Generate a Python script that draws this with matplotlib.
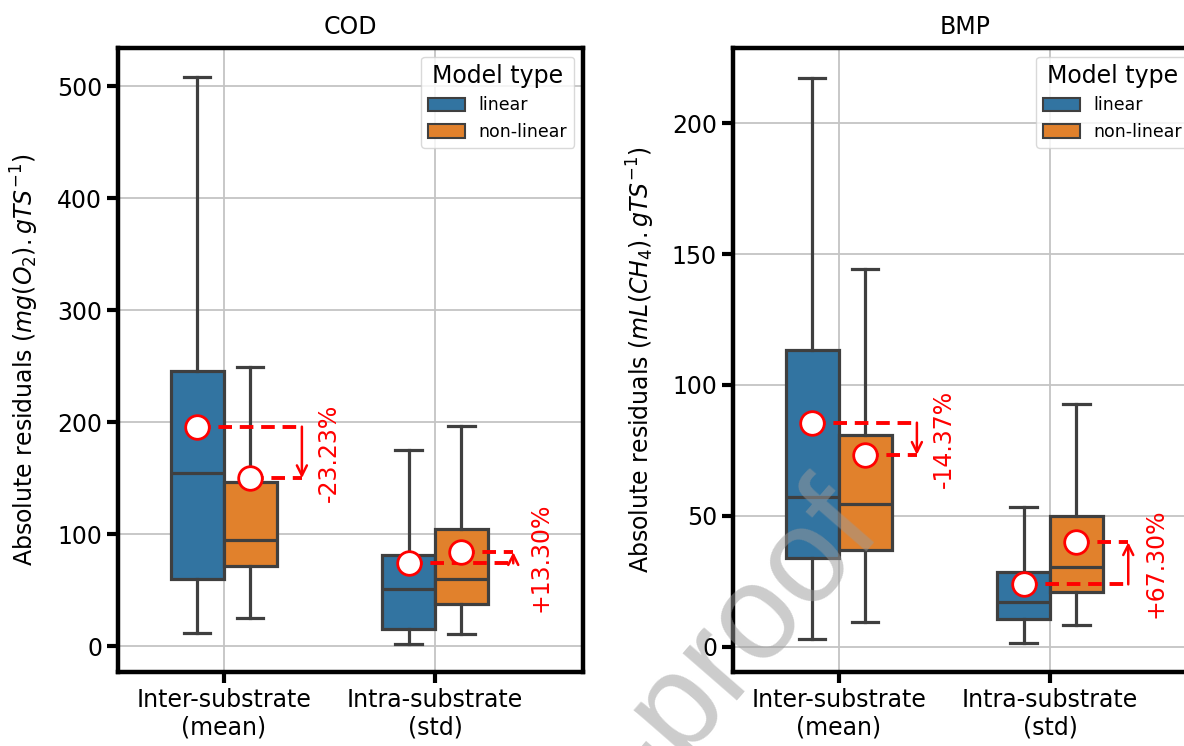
import matplotlib
matplotlib.use('Agg')
import matplotlib.pyplot as plt
from matplotlib.patches import Patch

# ---------------- data ----------------
categories = ['Inter-substrate\n(mean)', 'Intra-substrate\n(std)']
model_types = ['linear', 'non-linear']
panel_titles = ['COD', 'BMP']
panel_ylabels = [r'Absolute residuals $(mg(O_2).gTS^{-1})$',
                 r'Absolute residuals $(mL(CH_4).gTS^{-1})$']

# COD panel (per category: Inter, Intra)
cod_lin_whislo = [12, 2]
cod_lin_q1 = [60, 15]
cod_lin_med = [155, 51]
cod_lin_q3 = [246, 81]
cod_lin_whishi = [508, 175]
cod_lin_mean = [196, 74]

cod_nl_whislo = [25, 11]
cod_nl_q1 = [72, 38]
cod_nl_med = [95, 60]
cod_nl_q3 = [147, 105]
cod_nl_whishi = [249, 197]
cod_nl_mean = [150, 84]

cod_pct = ['-23.23%', '+13.30%']

# BMP panel
bmp_lin_whislo = [3, 1.3]
bmp_lin_q1 = [34, 10.5]
bmp_lin_med = [57, 17.2]
bmp_lin_q3 = [113.5, 28.7]
bmp_lin_whishi = [217.5, 53.5]
bmp_lin_mean = [85.6, 23.8]

bmp_nl_whislo = [9.6, 8.3]
bmp_nl_q1 = [37, 20.8]
bmp_nl_med = [54.5, 30.6]
bmp_nl_q3 = [81, 50]
bmp_nl_whishi = [144.2, 92.6]
bmp_nl_mean = [73.3, 39.9]

bmp_pct = ['-14.37%', '+67.30%']

cod_yticks = [0, 100, 200, 300, 400, 500]
bmp_yticks = [0, 50, 100, 150, 200]
cod_ylim = (-23, 534)
bmp_ylim = (-9.7, 228.8)

# ---------------- style ----------------
colors = ['#3274A1', '#E1812C']
edge = '#3f3f3f'
FS = 17

fig = plt.figure(figsize=(11.84, 7.46), dpi=100)
ax1 = fig.add_axes([118/1184, 1-672/746, 465/1184, 624/746])
ax2 = fig.add_axes([733/1184, 1-672/746, 465/1184, 624/746])


def make_stats(whislo, q1, med, q3, whishi, i):
    return [dict(whislo=whislo[i], q1=q1[i], med=med[i], q3=q3[i],
                 whishi=whishi[i], fliers=[])]


def draw_panel(ax, lin, nl, lin_mean, nl_mean, pct, title, ylabel, yticks, ylim):
    offs = [-0.125, 0.125]
    for ci in range(len(categories)):
        for mi, (st, col) in enumerate(zip([lin, nl], colors)):
            stats = make_stats(*st, ci)
            ax.bxp(stats, positions=[ci + offs[mi]], widths=0.25,
                   patch_artist=True, showfliers=False,
                   boxprops=dict(facecolor=col, edgecolor=edge, linewidth=2.3),
                   whiskerprops=dict(color=edge, linewidth=2.3),
                   capprops=dict(color=edge, linewidth=2.3),
                   medianprops=dict(color=edge, linewidth=2.3),
                   manage_ticks=False, zorder=3)
        ml = lin_mean[ci]
        mn = nl_mean[ci]
        xa = ci + 0.37
        ax.plot([ci + offs[0], xa], [ml, ml], ls='--', color='red', lw=2.8,
                dashes=(3.5, 2.0), zorder=4)
        ax.plot([ci + offs[1], xa], [mn, mn], ls='--', color='red', lw=2.8,
                dashes=(3.5, 2.0), zorder=4)
        ax.annotate('', xy=(xa, mn), xytext=(xa, ml),
                    arrowprops=dict(arrowstyle='->', color='red', lw=1.8,
                                    shrinkA=0, shrinkB=0, mutation_scale=18),
                    zorder=4)
        ax.plot([ci + offs[0], ci + offs[1]], [ml, mn], ls='none', marker='o',
                ms=17, mfc='white', mec='red', mew=2, zorder=6)
        ax.text(ci + 0.5, (ml + mn) / 2, pct[ci], rotation=90, color='red',
                ha='center', va='center', fontsize=FS, zorder=6)

    ax.set_xlim(-0.5, 1.7)
    ax.set_ylim(*ylim)
    ax.set_xticks(range(len(categories)))
    ax.set_xticklabels(categories, fontsize=FS)
    ax.set_yticks(yticks)
    ax.tick_params(axis='both', labelsize=FS, length=8, width=3, color='black')
    ax.set_ylabel(ylabel, fontsize=FS, labelpad=11)
    ax.set_title(title, fontsize=FS, pad=10)
    ax.grid(True, color='#c4c4c4', lw=1.3)
    ax.set_axisbelow(True)
    for s in ax.spines.values():
        s.set_linewidth(3.2)
        s.set_color('black')
    handles = [Patch(facecolor=c, edgecolor=edge, linewidth=1.5, label=l)
               for c, l in zip(colors, model_types)]
    leg = ax.legend(handles=handles, title='Model type', loc='upper right',
                    fontsize=12.5, title_fontsize=FS, borderaxespad=0.5,
                    handlelength=2.1, handleheight=0.8, framealpha=0.8)
    leg.get_frame().set_edgecolor('#d0d0d0')
    leg.set_zorder(10)


draw_panel(ax1,
           [cod_lin_whislo, cod_lin_q1, cod_lin_med, cod_lin_q3, cod_lin_whishi],
           [cod_nl_whislo, cod_nl_q1, cod_nl_med, cod_nl_q3, cod_nl_whishi],
           cod_lin_mean, cod_nl_mean, cod_pct, panel_titles[0], panel_ylabels[0],
           cod_yticks, cod_ylim)
draw_panel(ax2,
           [bmp_lin_whislo, bmp_lin_q1, bmp_lin_med, bmp_lin_q3, bmp_lin_whishi],
           [bmp_nl_whislo, bmp_nl_q1, bmp_nl_med, bmp_nl_q3, bmp_nl_whishi],
           bmp_lin_mean, bmp_nl_mean, bmp_pct, panel_titles[1], panel_ylabels[1],
           bmp_yticks, bmp_ylim)

# watermark
fig.text(884/1184, 1-532/746, 'Journal Pre-proof', rotation=49,
         rotation_mode='anchor', ha='right', va='baseline',
         fontsize=97, family='Liberation Sans', color='#9a9a9a', alpha=0.5,
         zorder=20)

fig.savefig('out.png', dpi=100)
